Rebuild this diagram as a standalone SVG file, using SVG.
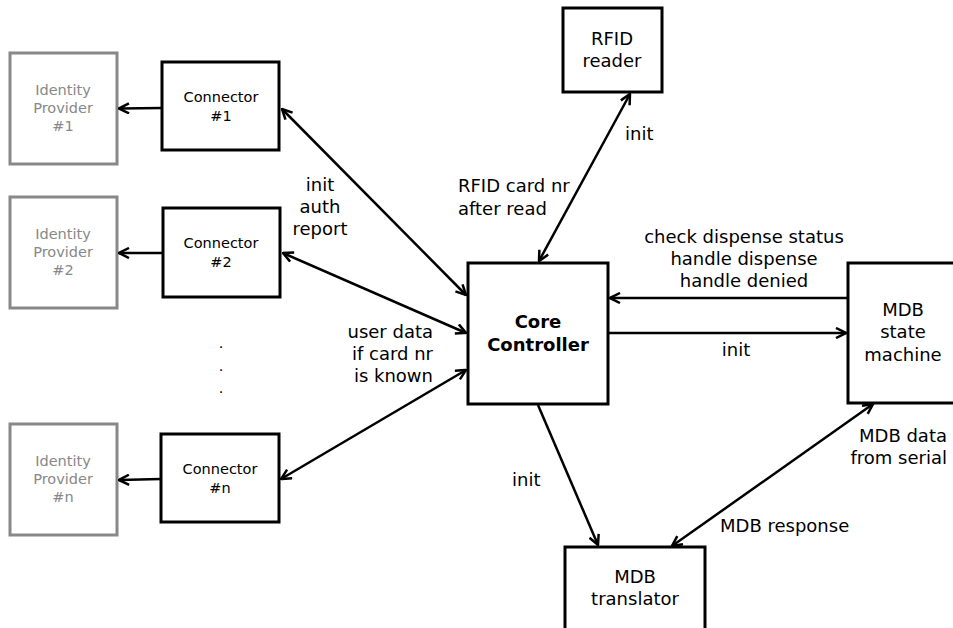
<svg xmlns="http://www.w3.org/2000/svg" width="953" height="628" viewBox="0 0 953 628">
<style>
.box{fill:#fff;stroke:#000;stroke-width:3}
.idp{fill:#fff;stroke:#888;stroke-width:3}
.t{font-family:"DejaVu Sans",sans-serif;font-size:18px;fill:#000;text-anchor:middle}
.s{font-family:"DejaVu Sans",sans-serif;font-size:14.5px;fill:#000;text-anchor:middle}
.st{text-anchor:start}
.en{text-anchor:end}
.g{fill:#888}
.b{font-weight:bold}
.ln{stroke:#000;stroke-width:2.5;fill:none}
</style>
<defs>
<marker id="ah" viewBox="0 0 12 12" refX="11" refY="6" markerWidth="12" markerHeight="12" markerUnits="userSpaceOnUse" orient="auto-start-reverse">
<path d="M1,1 L11,6 L1,11" fill="none" stroke="#000" stroke-width="2.5"/>
</marker>
</defs>
<g id="idp1"><rect class="idp" x="10" y="53" width="107" height="111"/><text class="s g" x="63" y="95">Identity</text><text class="s g" x="63" y="113">Provider</text><text class="s g" x="63" y="131">#1</text></g>
<g id="idp2"><rect class="idp" x="10" y="197" width="107" height="111"/><text class="s g" x="63" y="239">Identity</text><text class="s g" x="63" y="257">Provider</text><text class="s g" x="63" y="275">#2</text></g>
<g id="idpn"><rect class="idp" x="10" y="424" width="107" height="111"/><text class="s g" x="63" y="466">Identity</text><text class="s g" x="63" y="484">Provider</text><text class="s g" x="63" y="502">#n</text></g>
<g id="conn1"><rect class="box" x="162" y="62" width="117" height="88"/><text class="s" x="221" y="102">Connector</text><text class="s" x="221" y="121">#1</text></g>
<g id="conn2"><rect class="box" x="163" y="208" width="117" height="89"/><text class="s" x="221" y="248">Connector</text><text class="s" x="221" y="267">#2</text></g>
<g id="connn"><rect class="box" x="161" y="434" width="118" height="88"/><text class="s" x="220" y="474">Connector</text><text class="s" x="220" y="493">#n</text></g>
<g id="dots"><text class="s" x="221" y="348">.</text><text class="s" x="221" y="371">.</text><text class="s" x="221" y="393">.</text></g>
<g id="rfid"><rect class="box" x="563" y="8" width="99" height="84"/><text class="t" x="612" y="45">RFID</text><text class="t" x="612" y="67">reader</text></g>
<g id="core"><rect class="box" x="468" y="263" width="140" height="141"/><text class="t b" x="538" y="328">Core</text><text class="t b" x="538" y="351">Controller</text></g>
<g id="mdbsm"><rect class="box" x="848" y="263" width="110" height="140"/><text class="t" x="903" y="316">MDB</text><text class="t" x="903" y="338">state</text><text class="t" x="903" y="361">machine</text></g>
<g id="mdbtr"><rect class="box" x="565" y="547" width="140" height="140"/><text class="t" x="635" y="583">MDB</text><text class="t" x="635" y="605">translator</text></g>
<g id="connectors">
<line class="ln" x1="162" y1="108" x2="119" y2="108.5" marker-end="url(#ah)"/>
<line class="ln" x1="163" y1="253" x2="119" y2="253" marker-end="url(#ah)"/>
<line class="ln" x1="161" y1="479" x2="119" y2="480" marker-end="url(#ah)"/>
<line class="ln" x1="282" y1="109" x2="466" y2="295" marker-start="url(#ah)" marker-end="url(#ah)"/>
<line class="ln" x1="283" y1="253" x2="466" y2="333" marker-start="url(#ah)" marker-end="url(#ah)"/>
<line class="ln" x1="281" y1="479" x2="466" y2="370" marker-start="url(#ah)" marker-end="url(#ah)"/>
<line class="ln" x1="630" y1="94" x2="539" y2="261" marker-start="url(#ah)" marker-end="url(#ah)"/>
<line class="ln" x1="848" y1="298" x2="610" y2="298" marker-end="url(#ah)"/>
<line class="ln" x1="608" y1="333" x2="846" y2="333" marker-end="url(#ah)"/>
<line class="ln" x1="538" y1="405" x2="598" y2="545" marker-end="url(#ah)"/>
<line class="ln" x1="672" y1="546" x2="873" y2="404" marker-start="url(#ah)" marker-end="url(#ah)"/>
</g>
<g id="labels">
<text class="t" x="320" y="191">init</text><text class="t" x="320" y="213">auth</text><text class="t" x="320" y="235">report</text>
<text class="t en" x="433" y="338">user data</text><text class="t en" x="433" y="360">if card nr</text><text class="t en" x="433" y="382">is known</text>
<text class="t st" x="458" y="192">RFID card nr</text><text class="t st" x="458" y="215">after read</text>
<text class="t st" x="625" y="140">init</text>
<text class="t" x="744" y="243">check dispense status</text><text class="t" x="744" y="265">handle dispense</text><text class="t" x="744" y="287">handle denied</text>
<text class="t" x="736" y="356">init</text>
<text class="t en" x="947" y="442">MDB data</text><text class="t en" x="947" y="464">from serial</text>
<text class="t st" x="720" y="532">MDB response</text>
<text class="t st" x="512" y="486">init</text>
</g>
</svg>
